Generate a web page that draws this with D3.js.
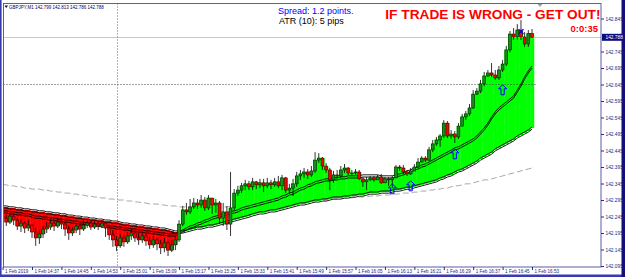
<!DOCTYPE html>
<html>
<head>
<meta charset="utf-8">
<script src="https://cdn.jsdelivr.net/npm/d3@7"></script>
<style>
  body { margin: 0; background: #fff; }
  svg { display: block; }
  text { font-family: "Liberation Sans", Arial, sans-serif; }
</style>
</head>
<body>
<svg id="chart" width="625" height="277"></svg>
<script>
// GBPJPY M1, 1 Feb 2019, one bar per minute from 14:29
const symbol = "GBPJPY,M1";
const startTime = "2019-02-01 14:29";
const firstOpen = 142.246;

const closes = [142.240,142.228,142.246,142.234,142.216,142.225,142.210,142.219,142.198,142.180,
  142.192,142.207,142.213,142.225,142.216,142.228,142.222,142.207,142.195,142.204,
  142.216,142.207,142.219,142.225,142.213,142.222,142.216,142.225,142.210,142.189,
  142.174,142.156,142.180,142.168,142.186,142.195,142.180,142.174,142.186,142.171,
  142.159,142.174,142.162,142.150,142.165,142.143,142.159,142.174,142.222,142.265,
  142.259,142.274,142.286,142.280,142.295,142.271,142.301,142.280,142.286,142.240,
  142.259,142.222,142.271,142.316,142.325,142.338,142.344,142.335,142.350,142.341,
  142.347,142.338,142.347,142.341,142.350,142.338,142.362,142.325,142.331,142.344,
  142.368,142.374,142.380,142.371,142.383,142.416,142.422,142.398,142.386,142.356,
  142.371,142.368,142.386,142.392,142.377,142.377,142.380,142.359,142.350,142.356,
  142.362,142.356,142.365,142.347,142.359,142.356,142.362,142.395,142.392,142.380,
  142.374,142.383,142.395,142.410,142.422,142.416,142.447,142.465,142.477,142.489,
  142.528,142.489,142.495,142.486,142.519,142.547,142.556,142.574,142.616,142.625,
  142.647,142.671,142.680,142.674,142.665,142.689,142.707,142.750,142.798,142.789,
  142.810,142.789,142.768,142.799,142.788];

const highs = [142.259,142.250,142.256,142.253,142.240,142.237,142.231,142.234,142.222,142.210,
  142.204,142.216,142.228,142.237,142.231,142.240,142.237,142.228,142.216,142.213,
  142.225,142.225,142.234,142.234,142.231,142.231,142.231,142.234,142.228,142.216,
  142.204,142.186,142.192,142.189,142.198,142.207,142.201,142.195,142.198,142.192,
  142.183,142.186,142.180,142.174,142.180,142.171,142.174,142.186,142.234,142.277,
  142.286,142.298,142.301,142.298,142.310,142.304,142.310,142.301,142.298,142.292,
  142.286,142.277,142.380,142.328,142.338,142.347,142.356,142.353,142.362,142.353,
  142.359,142.359,142.362,142.356,142.362,142.368,142.371,142.365,142.344,142.359,
  142.380,142.386,142.392,142.389,142.398,142.440,142.437,142.425,142.407,142.392,
  142.383,142.386,142.398,142.404,142.395,142.386,142.389,142.386,142.365,142.365,
  142.368,142.368,142.371,142.374,142.365,142.365,142.368,142.401,142.401,142.401,
  142.386,142.392,142.404,142.422,142.428,142.428,142.456,142.477,142.486,142.495,
  142.537,142.534,142.507,142.504,142.528,142.556,142.565,142.586,142.628,142.634,
  142.659,142.683,142.689,142.710,142.689,142.701,142.719,142.762,142.807,142.816,
  142.828,142.840,142.804,142.810,142.813];

const lows = [142.228,142.216,142.222,142.219,142.204,142.198,142.195,142.201,142.180,142.156,
  142.162,142.180,142.195,142.204,142.201,142.210,142.207,142.186,142.174,142.186,
  142.195,142.189,142.201,142.210,142.204,142.207,142.204,142.210,142.183,142.174,
  142.153,142.140,142.150,142.153,142.162,142.174,142.168,142.159,142.165,142.156,
  142.147,142.150,142.143,142.131,142.137,142.125,142.137,142.143,142.168,142.216,
  142.250,142.253,142.268,142.268,142.271,142.262,142.265,142.253,142.256,142.222,
  142.216,142.204,142.186,142.265,142.307,142.316,142.325,142.325,142.325,142.328,
  142.331,142.319,142.331,142.328,142.335,142.331,142.325,142.316,142.313,142.307,
  142.335,142.356,142.362,142.359,142.365,142.377,142.407,142.386,142.377,142.325,
  142.347,142.359,142.362,142.377,142.371,142.368,142.371,142.356,142.335,142.325,
  142.353,142.350,142.356,142.344,142.347,142.338,142.331,142.362,142.383,142.374,
  142.368,142.371,142.383,142.392,142.410,142.410,142.413,142.440,142.459,142.456,
  142.483,142.483,142.480,142.468,142.480,142.519,142.537,142.550,142.571,142.613,
  142.619,142.640,142.668,142.668,142.659,142.659,142.683,142.701,142.743,142.780,
  142.780,142.780,142.759,142.759,142.786];

// indicator buffers
const slowMa = [142.274,142.274,142.271,142.271,142.268,142.268,142.265,142.265,142.262,142.262,
  142.259,142.259,142.256,142.256,142.253,142.253,142.250,142.250,142.246,142.246,
  142.243,142.243,142.240,142.240,142.237,142.237,142.234,142.234,142.231,142.231,
  142.228,142.228,142.225,142.222,142.222,142.219,142.219,142.216,142.216,142.213,
  142.213,142.210,142.210,142.207,142.207,142.204,142.201,142.198,142.198,142.198,
  142.201,142.204,142.207,142.210,142.210,142.213,142.216,142.216,142.219,142.222,
  142.225,142.228,142.231,142.234,142.237,142.240,142.243,142.246,142.250,142.253,
  142.256,142.256,142.259,142.262,142.262,142.265,142.268,142.271,142.274,142.277,
  142.280,142.283,142.283,142.286,142.289,142.292,142.292,142.295,142.295,142.298,
  142.301,142.301,142.301,142.304,142.304,142.307,142.307,142.310,142.310,142.313,
  142.316,142.316,142.316,142.319,142.319,142.319,142.322,142.325,142.325,142.328,
  142.331,142.331,142.335,142.338,142.341,142.344,142.347,142.350,142.353,142.359,
  142.362,142.368,142.371,142.377,142.383,142.386,142.392,142.398,142.404,142.410,
  142.419,142.425,142.431,142.437,142.447,142.453,142.459,142.465,142.471,142.477,
  142.486,142.492,142.498,142.504,142.513];

const fastMa = [142.259,142.259,142.256,142.256,142.253,142.253,142.250,142.250,142.246,142.243,
  142.243,142.240,142.240,142.237,142.237,142.234,142.234,142.231,142.231,142.228,
  142.228,142.225,142.225,142.222,142.222,142.219,142.219,142.216,142.216,142.213,
  142.213,142.210,142.210,142.207,142.207,142.204,142.204,142.201,142.201,142.198,
  142.198,142.195,142.195,142.192,142.192,142.189,142.189,142.189,142.195,142.201,
  142.207,142.213,142.216,142.222,142.225,142.231,142.234,142.240,142.243,142.246,
  142.250,142.253,142.256,142.259,142.262,142.268,142.271,142.274,142.277,142.280,
  142.283,142.286,142.289,142.292,142.295,142.298,142.304,142.307,142.313,142.316,
  142.322,142.328,142.331,142.338,142.341,142.347,142.350,142.353,142.356,142.356,
  142.359,142.359,142.362,142.362,142.365,142.365,142.365,142.365,142.368,142.368,
  142.368,142.368,142.368,142.365,142.365,142.365,142.365,142.368,142.371,142.374,
  142.380,142.383,142.389,142.392,142.398,142.401,142.407,142.413,142.419,142.425,
  142.431,142.437,142.443,142.450,142.453,142.459,142.465,142.471,142.477,142.486,
  142.498,142.510,142.525,142.543,142.559,142.571,142.580,142.589,142.598,142.607,
  142.625,142.643,142.665,142.683,142.698];

const trendMa = [142.341,142.341,142.338,142.338,142.335,142.335,142.331,142.331,142.328,142.328,
  142.328,142.325,142.325,142.322,142.322,142.319,142.319,142.316,142.316,142.313,
  142.313,142.310,142.310,142.307,142.307,142.304,142.304,142.301,142.301,142.298,
  142.298,142.295,142.295,142.295,142.292,142.292,142.289,142.289,142.286,142.286,
  142.283,142.283,142.283,142.280,142.280,142.277,142.277,142.277,142.274,142.274,
  142.274,142.274,142.274,142.274,142.274,142.274,142.274,142.274,142.274,142.274,
  142.274,142.274,142.277,142.277,142.277,142.277,142.277,142.280,142.280,142.280,
  142.280,142.280,142.283,142.283,142.283,142.283,142.286,142.286,142.286,142.286,
  142.289,142.289,142.289,142.292,142.292,142.292,142.295,142.295,142.295,142.298,
  142.298,142.298,142.301,142.301,142.301,142.301,142.304,142.304,142.304,142.304,
  142.307,142.307,142.307,142.310,142.310,142.310,142.313,142.313,142.313,142.316,
  142.316,142.316,142.319,142.319,142.322,142.322,142.325,142.325,142.328,142.328,
  142.331,142.331,142.335,142.338,142.338,142.341,142.344,142.344,142.347,142.350,
  142.353,142.356,142.356,142.359,142.362,142.365,142.368,142.371,142.374,142.377,
  142.380,142.383,142.386,142.389,142.392];

// buy arrows and the exit mark (bar index, price)
const buySignals = [[106, 142.329], [111, 142.338], [123, 142.435], [136, 142.629]];
const exitMark = [141, 142.805];

const priceTicks = [142.095, 142.145, 142.195, 142.245, 142.295, 142.345, 142.395, 142.445,
  142.495, 142.545, 142.595, 142.645, 142.695, 142.745, 142.795, 142.845];
const timeTicks = ["14:29", "14:37", "14:45", "14:53", "15:01", "15:09", "15:17", "15:25", "15:33",
  "15:41", "15:49", "15:57", "16:05", "16:13", "16:21", "16:29", "16:37", "16:45", "16:53"];
const dateLabel = "1 Feb 2019";

const levelPrice = 142.645, levelEnd = "16:54";
const sessionLine = "15:00";
const spreadText = "Spread: 1.2 points.";
const atrText = "ATR (10): 5 pips";
const warnText = "IF TRADE IS WRONG - GET OUT!";
const timerText = "0:0:35";

const svg = d3.select("#chart");
const parse = d3.timeParse("%Y-%m-%d %H:%M");
const t0 = parse(startTime);
const atTime = s => parse("2019-02-01 " + s);

const bars = closes.map((c, i) => ({
  t: d3.timeMinute.offset(t0, i),
  o: i ? closes[i - 1] : firstOpen,
  h: highs[i], l: lows[i], c: c,
  slow: slowMa[i], fast: fastMa[i], trend: trendMa[i]
}));
const last = bars[bars.length - 1];

const plot = {left: 3.5, top: 3.5, right: 601, bottom: 267};

const x = d3.scaleTime()
  .domain([bars[0].t, last.t])
  .range([2.6, 532]);
const y = d3.scaleLinear()
  .domain([142.095, 142.845])
  .range([266, 18.5]);
const step = x(bars[1].t) - x(bars[0].t);

// window frame
svg.append("rect").attr("width", 625).attr("height", 277).attr("fill", "#fff");
svg.append("rect").attr("x", 0).attr("y", 0).attr("width", 1.6).attr("height", 277).attr("fill", "#3a3ab0");
svg.append("rect").attr("x", 0).attr("y", 274.5).attr("width", 625).attr("height", 2.5).attr("fill", "#3a3ab0");
svg.append("rect").attr("x", 621.5).attr("y", 0).attr("width", 3.5).attr("height", 277).attr("fill", "#101078");

svg.append("clipPath").attr("id", "plotClip")
  .append("rect")
  .attr("x", plot.left).attr("y", plot.top)
  .attr("width", plot.right - plot.left).attr("height", plot.bottom - plot.top);

const g = svg.append("g").attr("clip-path", "url(#plotClip)");

// long trend line (behind the histogram)
g.append("path")
  .datum(bars)
  .attr("fill", "none")
  .attr("stroke", "#a8a8a8")
  .attr("stroke-width", 1)
  .attr("stroke-dasharray", "6,3")
  .attr("d", d3.line().x(d => x(d.t)).y(d => y(d.trend)));

// histogram from the slow MA to the far side of the candle body
const up = d => d.c >= d.slow;
const bodyEdge = d => up(d) ? Math.max(d.o, d.c) : Math.min(d.o, d.c);
g.selectAll("rect.hist")
  .data(bars)
  .enter().append("rect")
  .attr("class", "hist")
  .attr("x", d => x(d.t) - step / 2)
  .attr("width", step + 0.4)
  .attr("y", d => Math.min(y(bodyEdge(d)), y(d.slow)))
  .attr("height", d => Math.abs(y(bodyEdge(d)) - y(d.slow)))
  .attr("fill", d => up(d) ? "#00ff00" : "#ff0000");

// current bid line
g.append("line")
  .attr("x1", plot.left).attr("x2", plot.right)
  .attr("y1", Math.round(y(last.c)) + 0.5).attr("y2", Math.round(y(last.c)) + 0.5)
  .attr("stroke", "#c8c8c8");

// dotted level and session lines
g.append("line")
  .attr("x1", plot.left).attr("x2", x(atTime(levelEnd)))
  .attr("y1", Math.round(y(levelPrice)) + 0.5).attr("y2", Math.round(y(levelPrice)) + 0.5)
  .attr("stroke", "#404040").attr("stroke-dasharray", "1,2");
g.append("line")
  .attr("x1", Math.round(x(atTime(sessionLine))) + 0.5).attr("x2", Math.round(x(atTime(sessionLine))) + 0.5)
  .attr("y1", plot.top).attr("y2", plot.bottom)
  .attr("stroke", "#00b000").attr("stroke-dasharray", "1,2");

// double lines for the two moving averages
["fast", "slow"].forEach(k => {
  const line = d3.line().x(d => x(d.t)).y(d => y(d[k]));
  [-1.1, 1.1].forEach(off => {
    g.append("path")
      .datum(bars)
      .attr("transform", "translate(0," + off + ")")
      .attr("fill", "none")
      .attr("stroke", "#000")
      .attr("stroke-width", 0.9)
      .attr("d", line);
  });
});

// candles
const candle = g.selectAll("g.candle")
  .data(bars)
  .enter().append("g")
  .attr("class", "candle");

candle.append("line")
  .attr("x1", d => x(d.t)).attr("x2", d => x(d.t))
  .attr("y1", d => y(d.h)).attr("y2", d => y(d.l))
  .attr("stroke", "#000").attr("stroke-width", 0.8);

candle.append("rect")
  .attr("x", d => x(d.t) - 1.4)
  .attr("width", 2.8)
  .attr("y", d => y(Math.max(d.o, d.c)))
  .attr("height", d => Math.max(0.7, Math.abs(y(d.o) - y(d.c))))
  .attr("fill", d => d.c >= d.o ? "#1a8c1a" : "#ff0000")
  .attr("stroke", d => d.c >= d.o ? "#002800" : "#500000")
  .attr("stroke-width", 0.6);

// buy arrows
const arrow = "M0,-5L4,-1L1.6,-1L1.6,5L-1.6,5L-1.6,-1L-4,-1Z";
g.selectAll("path.buy")
  .data(buySignals)
  .enter().append("path")
  .attr("class", "buy")
  .attr("transform", d => "translate(" + x(bars[d[0]].t) + "," + y(d[1]) + ")")
  .attr("d", arrow)
  .attr("fill", "none")
  .attr("stroke", "#0000ff")
  .attr("stroke-width", 1);

// exit mark
const ex = x(bars[exitMark[0]].t), ey = y(exitMark[1]);
g.append("path")
  .attr("d", `M${ex - 2.5},${ey - 2.5}L${ex + 2.5},${ey + 2.5}M${ex - 2.5},${ey + 2.5}L${ex + 2.5},${ey - 2.5}`)
  .attr("stroke", "#0000ff").attr("stroke-width", 1.2);

// plot frame
svg.append("rect")
  .attr("x", plot.left).attr("y", plot.top)
  .attr("width", plot.right - plot.left).attr("height", plot.bottom - plot.top)
  .attr("fill", "none").attr("stroke", "#5c5ca8").attr("stroke-width", 1);

// chart shift marker
svg.append("path").attr("d", "M537.5,4L542.5,4L540,7Z").attr("fill", "#a0a0a0");

// price axis
const bid = last.c;
const yAxis = d3.axisRight(y)
  .tickValues(priceTicks.filter(p => Math.abs(y(p) - y(bid)) > 6))
  .tickSize(3)
  .tickFormat(d3.format(".3f"));
svg.append("g")
  .attr("transform", "translate(" + plot.right + ",0)")
  .call(yAxis)
  .call(a => a.select(".domain").remove())
  .call(a => a.selectAll("line").attr("stroke", "#2a2a8a"))
  .call(a => a.selectAll("text")
    .attr("x", 4.5).attr("dy", "0.35em")
    .attr("fill", "#24247e").attr("font-size", "4.8px"));

svg.append("rect")
  .attr("x", plot.right + 1).attr("y", y(bid) - 3.5)
  .attr("width", 20.5).attr("height", 7)
  .attr("fill", "#0c0c80");
svg.append("text")
  .attr("x", plot.right + 4.5).attr("y", y(bid)).attr("dy", "0.35em")
  .attr("fill", "#fff").attr("font-size", "4.8px")
  .text(d3.format(".3f")(bid));

// time axis
const xAxis = d3.axisBottom(x)
  .tickValues(timeTicks.map(atTime))
  .tickSize(3)
  .tickFormat((d, i) => i === 0 ? dateLabel : "1 Feb " + d3.timeFormat("%H:%M")(d));
svg.append("g")
  .attr("transform", "translate(0," + plot.bottom + ")")
  .call(xAxis)
  .call(a => a.select(".domain").remove())
  .call(a => a.selectAll("line").attr("stroke", "#2a2a8a"))
  .call(a => a.selectAll("text")
    .attr("text-anchor", "start")
    .attr("x", 2).attr("y", 5.5).attr("dy", 0)
    .attr("fill", "#24247e").attr("font-size", "4.6px"));

// header
svg.append("path").attr("d", "M4.5,5.5L8,5.5L6.25,8Z").attr("fill", "#000060");
svg.append("text")
  .attr("x", 9).attr("y", 8.8)
  .attr("fill", "#000060").attr("font-size", "4.5px")
  .text(symbol + "  " + d3.format(".3f")(last.o) + " " + d3.format(".3f")(last.h) + " " +
    d3.format(".3f")(last.l) + " " + d3.format(".3f")(last.c));

svg.append("text")
  .attr("x", 278).attr("y", 14)
  .attr("fill", "#0000ff").attr("font-size", "9px")
  .text(spreadText);
svg.append("text")
  .attr("x", 279).attr("y", 24)
  .attr("fill", "#000").attr("font-size", "9px")
  .text(atrText);

svg.append("text")
  .attr("x", 600.5).attr("y", 18.5)
  .attr("text-anchor", "end")
  .attr("fill", "#ff0000").attr("font-size", "13.7px").attr("font-weight", "bold")
  .text(warnText);
svg.append("text")
  .attr("x", 598).attr("y", 32)
  .attr("text-anchor", "end")
  .attr("fill", "#ff0000").attr("font-size", "9.5px").attr("font-weight", "bold")
  .text(timerText);
</script>
</body>
</html>
